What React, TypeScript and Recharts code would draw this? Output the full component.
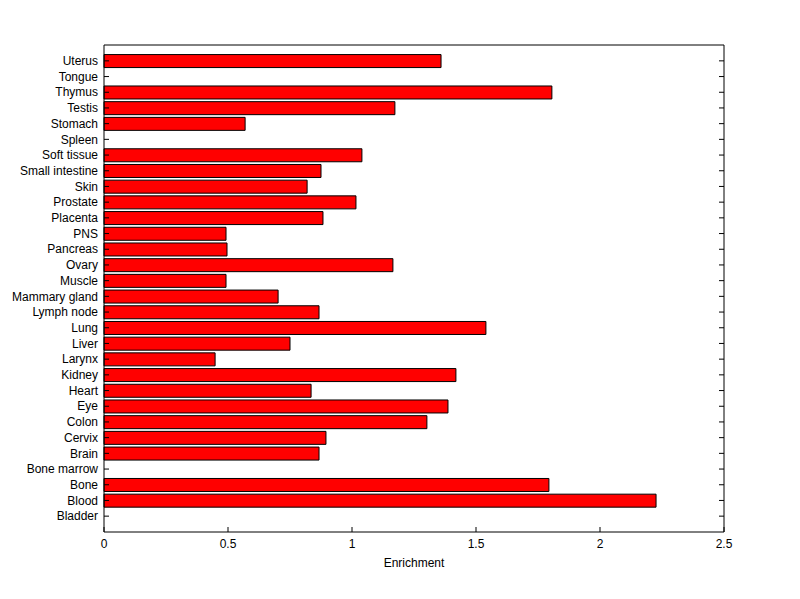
import { BarChart, Bar, XAxis, YAxis } from 'recharts';

const tissues = [
  'Bladder', 'Blood', 'Bone', 'Bone marrow', 'Brain', 'Cervix', 'Colon', 'Eye', 'Heart', 'Kidney',
  'Larynx', 'Liver', 'Lung', 'Lymph node', 'Mammary gland', 'Muscle', 'Ovary', 'Pancreas', 'PNS',
  'Placenta', 'Prostate', 'Skin', 'Small intestine', 'Soft tissue', 'Spleen', 'Stomach', 'Testis',
  'Thymus', 'Tongue', 'Uterus',
];
const enrichment = [
  0, 2.226, 1.794, 0, 0.867, 0.895, 1.302, 1.387, 0.835, 1.419,
  0.448, 0.75, 1.54, 0.867, 0.702, 0.492, 1.165, 0.496, 0.492,
  0.883, 1.016, 0.819, 0.875, 1.04, 0, 0.569, 1.173,
  1.806, 0, 1.359,
];
const xTicks = [0, 0.5, 1, 1.5, 2, 2.5];

const data = tissues.map((name, i) => ({ name, value: enrichment[i] }));

const fontFamily = 'Liberation Sans, Arial, sans-serif';
const font = { fontSize: 12, fill: '#000', fontFamily };
const noTick = () => <g />;

// plain <text> so long names never wrap
const NameTick = (props: any) => {
  const { x, y, payload } = props;
  return (
    <text x={x} y={y} dy="0.35em" textAnchor="end" fontSize={12} fontFamily={fontFamily} fill="#000">
      {payload.value}
    </text>
  );
};

export default function App() {
  return (
    <div style={{ position: 'absolute', left: 0, top: 0, background: '#fff' }}>
      <BarChart
        width={800}
        height={599}
        data={data}
        layout="vertical"
        barCategoryGap="10%"
        margin={{ top: 44, right: 75, bottom: 37, left: 4 }}
      >
        <XAxis
          xAxisId="b"
          type="number"
          domain={[0, 2.5]}
          ticks={xTicks}
          orientation="bottom"
          height={30}
          tickSize={-5}
          tickMargin={12}
          tick={font}
          stroke="#000"
          label={{ value: 'Enrichment', position: 'insideBottom', offset: -5, ...font }}
        />
        <XAxis
          xAxisId="t"
          type="number"
          domain={[0, 2.5]}
          ticks={xTicks}
          orientation="top"
          height={1}
          tickSize={-5}
          tick={noTick}
          stroke="#000"
        />
        <YAxis
          yAxisId="l"
          type="category"
          dataKey="name"
          reversed
          width={100}
          interval={0}
          tickSize={-5}
          tickMargin={11}
          tick={<NameTick />}
          stroke="#000"
          padding={{ top: 8, bottom: 8 }}
        />
        <YAxis
          yAxisId="r"
          type="category"
          dataKey="name"
          orientation="right"
          reversed
          width={1}
          interval={0}
          tickSize={-5}
          tick={noTick}
          stroke="#000"
          padding={{ top: 8, bottom: 8 }}
        />
        <Bar
          dataKey="value"
          xAxisId="b"
          yAxisId="l"
          fill="#ff0000"
          stroke="#000"
          strokeWidth={1}
          isAnimationActive={false}
        />
      </BarChart>
    </div>
  );
}
